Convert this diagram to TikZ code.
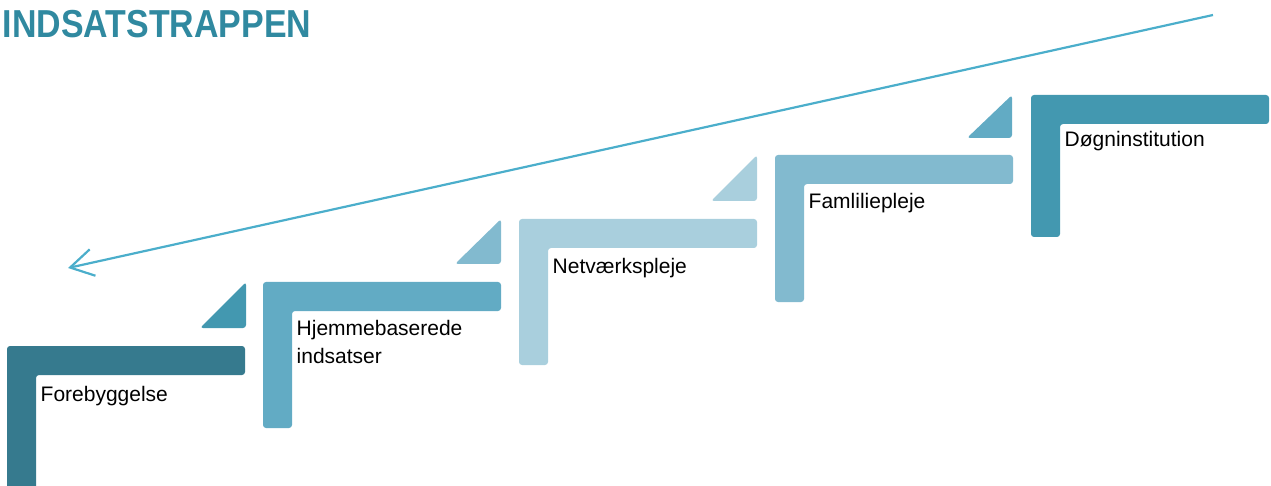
\documentclass[tikz,border=0pt]{standalone}
\usepackage{fontspec}
\setmainfont{Liberation Sans}
\usetikzlibrary{arrows.meta}
\definecolor{cA}{HTML}{367A8E}
\definecolor{cB}{HTML}{62ABC4}
\definecolor{cC}{HTML}{A9CFDD}
\definecolor{cD}{HTML}{82BACF}
\definecolor{cE}{HTML}{4398B0}
\definecolor{cTitle}{HTML}{3089A0}
\definecolor{cArrow}{HTML}{4BAECB}
\newcommand\stepL[4]{\fill[#4, rounded corners=3pt] (#1,#2) -- ++(238,0) -- ++(0,29) -- ++(-209,0) -- (#1+29,#3) -- (#1,#3) -- cycle;}
\newcommand\stepT[5]{\fill[#5, rounded corners=3pt] (#1,#4) -- (#2,#4) -- (#2,#3) -- cycle;}
\begin{document}
\begin{tikzpicture}[x=1pt,y=-1pt,
  lbl/.style={anchor=base west, inner sep=0pt, font=\fontsize{21}{28}\selectfont, text=black, align=left},
  titlestyle/.style={anchor=base west, inner sep=0pt, text=cTitle, font=\fontsize{39}{39}\selectfont\bfseries},
  arrowline/.style={draw=cArrow, line width=2.2pt, -{Straight Barb[length=23pt, width=27pt, line width=2.2pt]}}]
\useasboundingbox (0,0) rectangle (1271,486);
\clip (0,0) rectangle (1271,486);
% title
\node[titlestyle] (title) at (2.5,38) {\scalebox{0.87}[1]{INDSATSTRAPPEN}};
% steps
\stepL{7}{346}{500}{cA}
\stepL{263}{282}{428}{cB}
\stepL{519}{219}{365}{cC}
\stepL{775}{155}{302}{cD}
\stepL{1031}{95}{237}{cE}
% triangles
\stepT{200}{246}{282}{328}{cE}
\stepT{455}{501}{219}{264}{cD}
\stepT{711}{757}{155}{201}{cC}
\stepT{967}{1012}{95}{138}{cB}
% labels
\node[lbl] (l1) at (40.5,401) {Forebyggelse};
\node[lbl] (l2) at (296.5,363) {Hjemmebaserede\\indsatser};
\node[lbl] (l3) at (552.5,274) {Netværkspleje};
\node[lbl] (l4) at (808.5,209) {Famliliepleje};
\node[lbl] (l5) at (1064.5,147) {Døgninstitution};
% arrow
\coordinate (arrowstart) at (1213,15);
\coordinate (arrowend) at (68,268);
\draw[arrowline] (arrowstart) -- (arrowend);
\end{tikzpicture}
\end{document}
